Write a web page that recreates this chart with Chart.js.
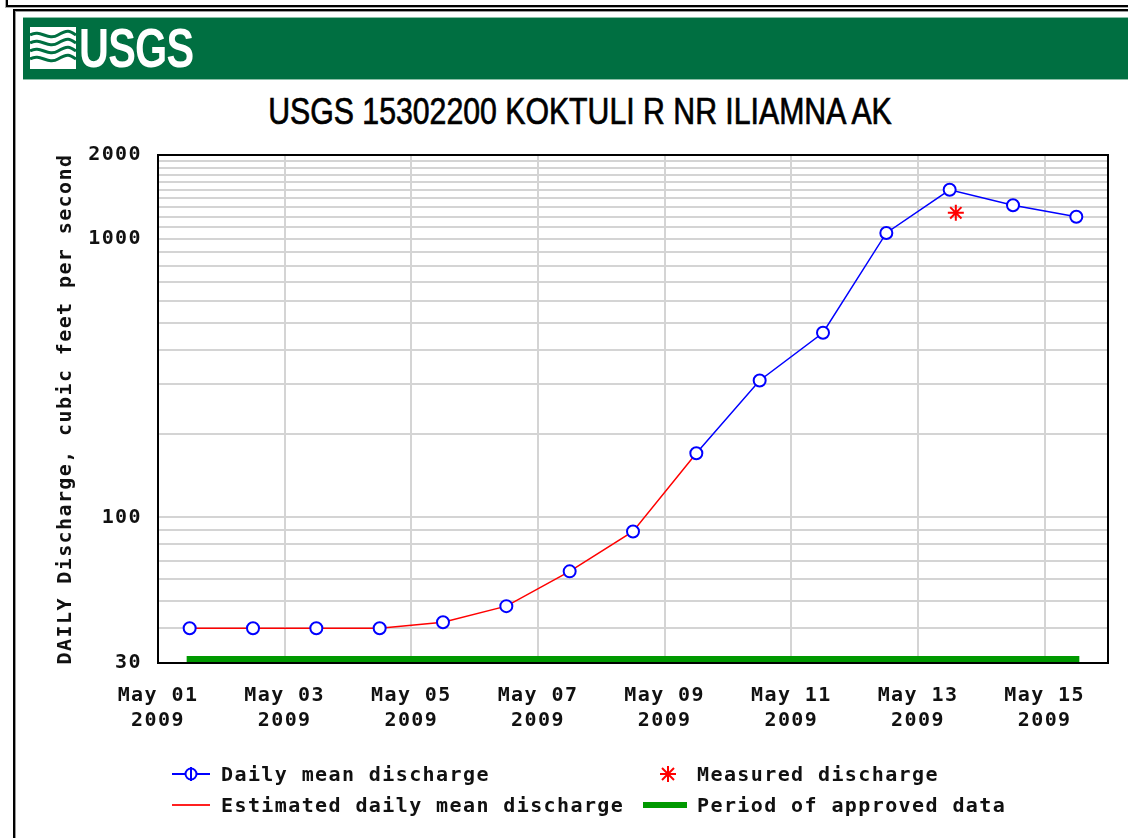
<!DOCTYPE html>
<html>
<head>
<meta charset="utf-8">
<script src="https://cdn.jsdelivr.net/npm/chart.js@4.4.0/dist/chart.umd.min.js"></script>
<style>
  body { margin: 0; width: 1128px; height: 838px; overflow: hidden; background: #fff; position: relative; }
  #box1 { position: absolute; left: 6px; top: -20px; width: 1200px; height: 23px; border: 2px solid #000; outline: 1px solid #aaa; }
  #box2 { position: absolute; left: 13px; top: 9px; width: 1200px; height: 900px; border: 2px solid #000; box-shadow: inset 1px 1px 0 #999; }
  #banner { position: absolute; left: 23px; top: 17px; width: 1110px; height: 61px; background: #006f41; border-top: 1px solid #8cc0a8; border-bottom: 1px solid #8cc0a8; }
  #logo { position: absolute; left: 30px; top: 27px; }
  #logotext { position: absolute; left: 79px; top: 18px; color: #fff; font: bold 56px 'Liberation Sans', sans-serif; letter-spacing: -1px; line-height: 60px; transform: scaleX(0.74); transform-origin: 0 0; }
  #title { position: absolute; left: 80px; width: 1000px; top: 91px; text-align: center; font: 36px 'Liberation Sans', sans-serif; line-height: 42px; color: #000; -webkit-text-stroke: 0.7px #000; transform: scaleX(0.84); transform-origin: 500px 0; }
  canvas { position: absolute; left: 0; top: 0; }
  .lg { position: absolute; font: bold 20px 'DejaVu Sans Mono', monospace; letter-spacing: 1.4px; color: #111; line-height: 24px; white-space: nowrap; }
  .sym { position: absolute; }
</style>
</head>
<body>
<div id="box1"></div>
<div id="box2"></div>
<div id="banner"></div>
<svg id="logo" width="46" height="42" viewBox="0 0 46 42">
  <rect x="0" y="0" width="46" height="42" fill="#fff"/>
  <path d="M0 8 C10 2,18 14,28 8 S40 4,46 8" stroke="#006f41" stroke-width="3" fill="none"/>
  <path d="M0 16 C10 10,18 22,28 16 S40 12,46 16" stroke="#006f41" stroke-width="3" fill="none"/>
  <path d="M0 24 C10 18,18 30,28 24 S40 20,46 24" stroke="#006f41" stroke-width="3" fill="none"/>
  <path d="M0 32 C10 26,18 38,28 32 S40 28,46 32" stroke="#006f41" stroke-width="3" fill="none"/>
</svg>
<div id="logotext">USGS</div>
<div id="title">USGS 15302200 KOKTULI R NR ILIAMNA AK</div>
<canvas id="myChart" width="1128" height="838"></canvas>

<svg class="sym" style="left:172px;top:764px" width="40" height="20">
  <line x1="0" y1="10" x2="38" y2="10" stroke="#0000ff" stroke-width="2"/>
  <circle cx="19" cy="10" r="5.5" stroke="#0000ff" stroke-width="2" fill="#fff"/>
  <line x1="19" y1="3" x2="19" y2="17" stroke="#0000ff" stroke-width="2"/>
</svg>
<div class="lg" style="left:221px;top:762px">Daily mean discharge</div>
<svg class="sym" style="left:172px;top:795px" width="40" height="20">
  <line x1="0" y1="10" x2="38" y2="10" stroke="#ff2020" stroke-width="2"/>
</svg>
<div class="lg" style="left:221px;top:793px">Estimated daily mean discharge</div>
<svg class="sym" style="left:658px;top:764px" width="20" height="20">
  <g stroke="#ff0000" stroke-width="2">
    <line x1="10" y1="2" x2="10" y2="18"/><line x1="2" y1="10" x2="18" y2="10"/>
    <line x1="4" y1="4" x2="16" y2="16"/><line x1="16" y1="4" x2="4" y2="16"/>
  </g>
</svg>
<div class="lg" style="left:697px;top:762px">Measured discharge</div>
<svg class="sym" style="left:643px;top:795px" width="46" height="20">
  <rect x="0" y="7" width="44" height="6" fill="#009900"/>
</svg>
<div class="lg" style="left:697px;top:793px">Period of approved data</div>

<script>
// daily values (cfs)
const dates = ['2009-05-01', '2009-05-02', '2009-05-03', '2009-05-04', '2009-05-05',
    '2009-05-06', '2009-05-07', '2009-05-08', '2009-05-09', '2009-05-10',
    '2009-05-11', '2009-05-12', '2009-05-13', '2009-05-14', '2009-05-15'];
const dailyMean = [40, 40, 40, 40, 42, 48, 64, 89, 170, 310, 460, 1050, 1500, 1320, 1200];
// 1 = estimated value (red segment leading into it)
const estimated = [1, 1, 1, 1, 1, 1, 1, 1, 1, 0, 0, 0, 0, 0, 0];

const measuredTimes = ['2009-05-13T14:20'];
const measuredValues = [1240];

const approvedPeriod = ['2009-05-01T12:00', '2009-05-15T12:00'];

const xTickDates = ['2009-05-01', '2009-05-03', '2009-05-05', '2009-05-07',
    '2009-05-09', '2009-05-11', '2009-05-13', '2009-05-15'];
const xTickLabels = [['May 01', '2009'], ['May 03', '2009'], ['May 05', '2009'], ['May 07', '2009'],
    ['May 09', '2009'], ['May 11', '2009'], ['May 13', '2009'], ['May 15', '2009']];
const yTickLabels = [30, 100, 1000, 2000];
const yGridValues = [30, 40, 50, 60, 70, 80, 90, 100, 200, 300, 400, 500, 600, 700, 800, 900,
    1000, 1100, 1200, 1300, 1400, 1500, 1600, 1700, 1800, 1900, 2000];

const startDate = '2009-05-01';
const endDate = '2009-05-16';

// days since start (x axis is in days)
function dayOf(s) {
    if (s.length == 10) s = s + 'T00:00';
    return (Date.parse(s + 'Z') - Date.parse(startDate + 'T00:00Z')) / 86400000;
}

const monoFont = { family: "'DejaVu Sans Mono', monospace", size: 20, weight: 'bold' };

const spacing = {
    id: 'spacing',
    beforeUpdate(chart) { chart.ctx.letterSpacing = '1.4px'; },
    beforeDraw(chart) { chart.ctx.letterSpacing = '1.4px'; }
};

const frame = {
    id: 'frame',
    afterDatasetsDraw(chart) {
        const { ctx, chartArea, scales } = chart;
        // approved data bar along bottom
        const x0 = scales.x.getPixelForValue(dayOf(approvedPeriod[0]));
        const x1 = scales.x.getPixelForValue(dayOf(approvedPeriod[1]));
        ctx.save();
        ctx.strokeStyle = '#009900';
        ctx.lineWidth = 6;
        ctx.lineCap = 'square';
        ctx.beginPath();
        ctx.moveTo(x0, chartArea.bottom - 4);
        ctx.lineTo(x1, chartArea.bottom - 4);
        ctx.stroke();
        ctx.strokeStyle = '#000';
        ctx.lineWidth = 2;
        ctx.lineCap = 'butt';
        ctx.strokeRect(chartArea.left, chartArea.top, chartArea.width, chartArea.height);
        ctx.restore();
    }
};

const dailyData = dates.map((d, i) => ({ x: dayOf(d + 'T12:00'), y: dailyMean[i] }));
const measuredData = measuredTimes.map((t, i) => ({ x: dayOf(t), y: measuredValues[i] }));

const config = {
    type: 'line',
    data: {
        datasets: [{
            label: 'Daily mean discharge',
            data: dailyData,
            borderColor: '#0000ff',
            borderWidth: 1.5,
            segment: {
                borderColor: ctx => estimated[ctx.p1DataIndex] ? '#ff0000' : '#0000ff'
            },
            pointStyle: 'circle',
            pointRadius: 6,
            pointBorderWidth: 2,
            pointBorderColor: '#0000ff',
            pointBackgroundColor: '#fff',
            tension: 0
        }, {
            label: 'Measured discharge',
            data: measuredData,
            showLine: false,
            pointStyle: 'star',
            pointRadius: 8,
            pointBorderWidth: 2,
            pointBorderColor: '#ff0000',
            pointBackgroundColor: '#ff0000'
        }]
    },
    options: {
        responsive: false,
        animation: false,
        events: [],
        layout: { padding: { left: 54, top: 155, right: 20, bottom: 105 } },
        plugins: { legend: { display: false }, tooltip: { enabled: false } },
        scales: {
            x: {
                type: 'linear',
                min: dayOf(startDate),
                max: dayOf(endDate),
                afterBuildTicks: scale => { scale.ticks = xTickDates.map(d => ({ value: dayOf(d) })); },
                afterFit: scale => { scale.height = 70; },
                grid: { color: '#d4d4d4', lineWidth: 2, drawTicks: false },
                border: { color: '#000', width: 2 },
                ticks: {
                    padding: 20,
                    maxRotation: 0,
                    autoSkip: false,
                    color: '#111',
                    font: { ...monoFont, lineHeight: 1.25 },
                    callback: (v, i) => xTickLabels[i]
                }
            },
            y: {
                type: 'logarithmic',
                min: 30,
                max: 2000,
                afterBuildTicks: scale => { scale.ticks = yGridValues.map(v => ({ value: v })); },
                afterFit: scale => { scale.width = 104; },
                grid: { color: '#d4d4d4', lineWidth: 2, drawTicks: false },
                border: { color: '#000', width: 2 },
                ticks: {
                    padding: 16,
                    autoSkip: false,
                    color: '#111',
                    font: monoFont,
                    callback: v => yTickLabels.includes(v) ? String(v) : ''
                },
                title: {
                    display: true,
                    text: 'DAILY Discharge, cubic feet per second',
                    color: '#111',
                    font: monoFont,
                    padding: { top: 0, bottom: 0 }
                }
            }
        }
    },
    plugins: [spacing, frame]
};

const myChart = new Chart(document.getElementById('myChart'), config);
</script>
</body>
</html>
